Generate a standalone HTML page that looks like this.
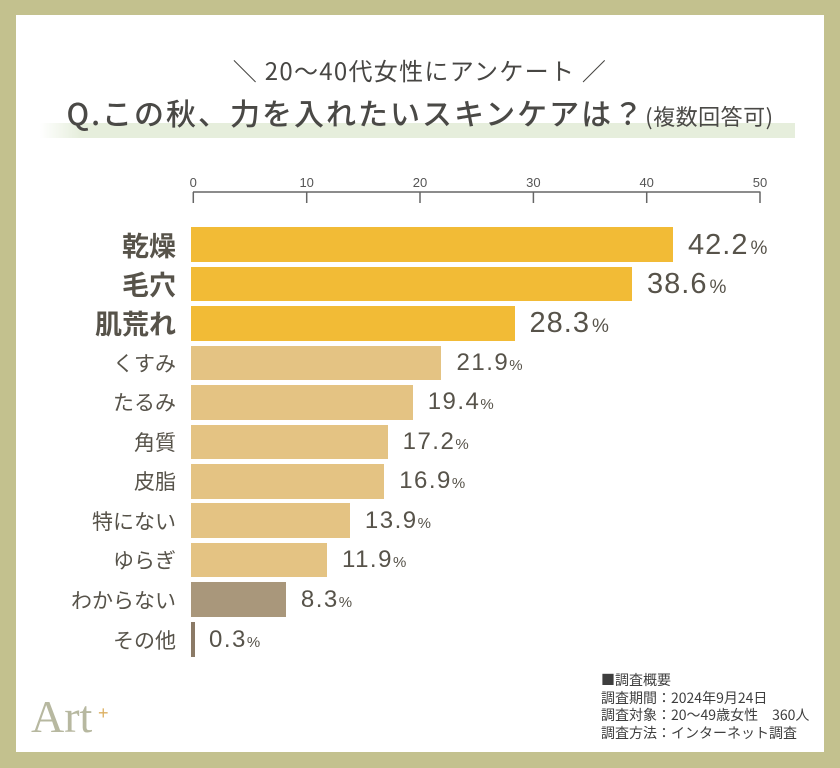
<!DOCTYPE html>
<html><head><meta charset="utf-8">
<style>
*{margin:0;padding:0;box-sizing:border-box}
body{width:840px;height:768px;background:#c3c18e;position:relative;overflow:hidden;font-family:"Liberation Sans","Noto Sans CJK JP",sans-serif;color:#55524a}
#card{position:absolute;left:16px;top:15px;width:808px;height:737px;background:#fff}
.abs{position:absolute}
.t1{left:0;width:840px;top:52px;height:36px;line-height:36px;text-align:center;font-family:"Noto Sans CJK JP",sans-serif;font-size:24px;color:#474643;letter-spacing:1.3px}
.band{left:40px;top:123px;width:755px;height:15px;background:linear-gradient(to right,rgba(230,238,220,0) 0,#e6eedc 40px,#e6eedc 100%)}
.t2{left:0;width:840px;top:90px;height:44px;line-height:44px;text-align:center;font-family:"Noto Sans CJK JP",sans-serif;font-size:30px;font-weight:500;color:#4a4946;letter-spacing:2px;white-space:nowrap}
.t2 small{font-size:22px;font-weight:400;letter-spacing:0.5px}
.tick{font-size:13px;color:#555;width:30px;text-align:center;top:175px;line-height:16px;font-family:"Liberation Sans",sans-serif}
.lab{right:664px;text-align:right;font-family:"Noto Sans CJK JP",sans-serif;white-space:nowrap;color:#57534a}
.lab.b{font-weight:700;font-size:27px}
.lab.r{font-size:21px}
.bar{left:191px;height:34.5px}
.g{background:#f2bb36}.tn{background:#e4c383}.tp{background:#a9977b}
.val{white-space:nowrap;color:#57534a;font-family:"Liberation Sans",sans-serif}
.val.big{font-size:29px;letter-spacing:1px}
.val.big span{font-size:19px;letter-spacing:0;margin-left:2px}
.val.sm{font-size:24px;letter-spacing:1.5px}
.val.sm span{font-size:15px;letter-spacing:0}
.foot{left:601px;top:672px;font-family:"Noto Sans CJK JP",sans-serif;font-size:14px;line-height:17.5px;color:#3e3e3e;white-space:pre}
.logo{left:31px;top:692px;font-family:"Liberation Serif",serif;font-size:46px;line-height:50px;color:#b7b8a0}
.plus{left:98px;top:703px;font-family:"Liberation Sans",sans-serif;font-size:18px;line-height:20px;color:#dcb062}
</style></head><body>
<div id="card"></div>
<div class="abs t1">＼ 20〜40代女性にアンケート ／</div>
<div class="abs band"></div>
<div class="abs t2">Q.この秋、力を入れたいスキンケアは？<small>(複数回答可)</small></div>

<svg class="abs" style="left:0;top:0" width="840" height="768">
<g stroke="#666" stroke-width="1.5" fill="none">
<line x1="193" y1="192" x2="760.5" y2="192"/>
<line x1="193.3" y1="192" x2="193.3" y2="203"/>
<line x1="306.7" y1="192" x2="306.7" y2="203"/>
<line x1="420" y1="192" x2="420" y2="203"/>
<line x1="533.4" y1="192" x2="533.4" y2="203"/>
<line x1="646.7" y1="192" x2="646.7" y2="203"/>
<line x1="760" y1="192" x2="760" y2="203"/>
</g>
</svg>
<div class="abs tick" style="left:178.3px">0</div>
<div class="abs tick" style="left:291.7px">10</div>
<div class="abs tick" style="left:405px">20</div>
<div class="abs tick" style="left:518.4px">30</div>
<div class="abs tick" style="left:631.7px">40</div>
<div class="abs tick" style="left:745px">50</div>

<!-- rows -->
<div class="abs bar g" style="top:227.3px;width:482.3px"></div>
<div class="abs bar g" style="top:266.7px;width:441.2px"></div>
<div class="abs bar g" style="top:306.2px;width:323.5px"></div>
<div class="abs bar tn" style="top:345.6px;width:250.3px"></div>
<div class="abs bar tn" style="top:385.1px;width:221.7px"></div>
<div class="abs bar tn" style="top:424.5px;width:196.6px"></div>
<div class="abs bar tn" style="top:464px;width:193.2px"></div>
<div class="abs bar tn" style="top:503.4px;width:158.9px"></div>
<div class="abs bar tn" style="top:542.8px;width:136px"></div>
<div class="abs bar tp" style="top:582.3px;width:94.9px"></div>
<div class="abs" style="left:191px;top:621.7px;width:3.5px;height:35.6px;background:#8b7a66"></div>

<div class="abs lab b" style="top:224.5px;line-height:40px">乾燥</div>
<div class="abs lab b" style="top:263.9px;line-height:40px">毛穴</div>
<div class="abs lab b" style="top:303.4px;line-height:40px">肌荒れ</div>
<div class="abs lab r" style="top:345.8px;line-height:34px">くすみ</div>
<div class="abs lab r" style="top:385.3px;line-height:34px">たるみ</div>
<div class="abs lab r" style="top:424.7px;line-height:34px">角質</div>
<div class="abs lab r" style="top:464.2px;line-height:34px">皮脂</div>
<div class="abs lab r" style="top:503.6px;line-height:34px">特にない</div>
<div class="abs lab r" style="top:543px;line-height:34px">ゆらぎ</div>
<div class="abs lab r" style="top:582.5px;line-height:34px">わからない</div>
<div class="abs lab r" style="top:622.5px;line-height:34px">その他</div>

<div class="abs val big" style="left:688px;top:224.5px;line-height:40px">42.2<span>%</span></div>
<div class="abs val big" style="left:647px;top:263.9px;line-height:40px">38.6<span>%</span></div>
<div class="abs val big" style="left:529.5px;top:303.4px;line-height:40px">28.3<span>%</span></div>
<div class="abs val sm" style="left:456.5px;top:345.8px;line-height:34px">21.9<span>%</span></div>
<div class="abs val sm" style="left:427.7px;top:385.3px;line-height:34px">19.4<span>%</span></div>
<div class="abs val sm" style="left:402.6px;top:424.7px;line-height:34px">17.2<span>%</span></div>
<div class="abs val sm" style="left:399.2px;top:464.2px;line-height:34px">16.9<span>%</span></div>
<div class="abs val sm" style="left:364.9px;top:503.6px;line-height:34px">13.9<span>%</span></div>
<div class="abs val sm" style="left:342px;top:543px;line-height:34px">11.9<span>%</span></div>
<div class="abs val sm" style="left:300.9px;top:582.5px;line-height:34px">8.3<span>%</span></div>
<div class="abs val sm" style="left:209px;top:622.5px;line-height:34px">0.3<span>%</span></div>

<div class="abs foot">■調査概要
調査期間：2024年9月24日
調査対象：20〜49歳女性　360人
調査方法：インターネット調査</div>

<div class="abs logo">Art</div>
<div class="abs plus">+</div>
</body></html>
